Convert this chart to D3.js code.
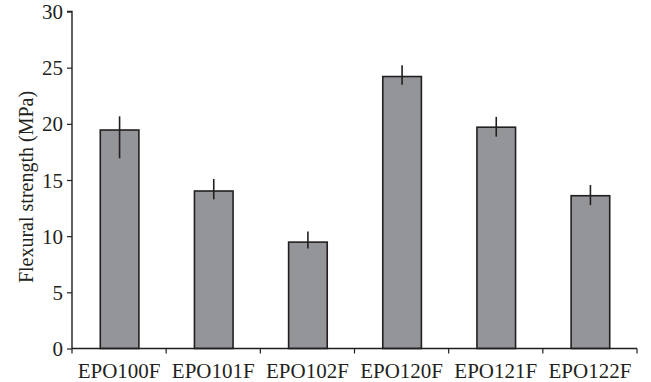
<!DOCTYPE html>
<html>
<head>
<meta charset="utf-8">
<script src="https://cdn.jsdelivr.net/npm/d3@7"></script>
<style>
  html, body { margin: 0; padding: 0; background: #fff; }
  svg { display: block; }
  text { font-family: "Liberation Serif", "Times New Roman", serif; fill: #231f20; }
</style>
</head>
<body>
<svg id="chart" width="651" height="382"></svg>
<script>
// Flexural strength of each formulation, with error bar extents (MPa)
const categories = ["EPO100F", "EPO101F", "EPO102F", "EPO120F", "EPO121F", "EPO122F"];
const strength   = [19.45, 14.02, 9.47, 24.21, 19.70, 13.60];
const errHigh    = [20.67, 15.09, 10.42, 25.22, 20.62, 14.55];
const errLow     = [16.93, 13.28, 8.91, 23.47, 18.86, 12.77];
const yTicks     = [0, 5, 10, 15, 20, 25, 30];
const yLabel     = "Flexural strength (MPa)";

const svg = d3.select("#chart");
const plotLeft = 72, plotRight = 637, plotTop = 11.5, plotBottom = 348.5;

const x = d3.scaleBand().domain(categories).range([plotLeft, plotRight]).padding(0);
const y = d3.scaleLinear().domain([0, 30]).range([plotBottom, plotTop]);

const ink = "#231f20";
const barW = x.bandwidth() * 0.41;

// Bars
svg.append("g").selectAll("rect")
  .data(categories)
  .join("rect")
  .attr("x", (d) => x(d) + x.bandwidth() / 2 - barW / 2 + 0.5)
  .attr("y", (d, i) => y(strength[i]))
  .attr("width", barW)
  .attr("height", (d, i) => y(0) - y(strength[i]))
  .attr("fill", "#939598")
  .attr("stroke", ink)
  .attr("stroke-width", 1.6);

// Error bars
svg.append("g").selectAll("line")
  .data(categories)
  .join("line")
  .attr("x1", (d) => x(d) + x.bandwidth() / 2 + 0.5)
  .attr("x2", (d) => x(d) + x.bandwidth() / 2 + 0.5)
  .attr("y1", (d, i) => y(errHigh[i]))
  .attr("y2", (d, i) => y(errLow[i]))
  .attr("stroke", ink)
  .attr("stroke-width", 1.6);

// Y axis
const yAxis = svg.append("g")
  .attr("transform", `translate(${plotLeft},0)`)
  .call(d3.axisLeft(y).tickValues(yTicks).tickSize(5).tickPadding(4).tickFormat(d3.format("d")));
yAxis.select(".domain").attr("stroke", ink).attr("stroke-width", 1.4).attr("d", `M-5,${plotTop}H0V${plotBottom}`);
yAxis.selectAll(".tick line").attr("stroke", ink).attr("stroke-width", 1.2);
yAxis.selectAll(".tick text")
  .attr("font-size", 21).attr("font-family", "Liberation Serif, serif").attr("fill", ink)
  .attr("dy", "0.34em");

// X axis with ticks at category boundaries
const xAxis = svg.append("g").attr("transform", `translate(0,${plotBottom})`);
xAxis.append("line")
  .attr("x1", plotLeft).attr("x2", plotRight)
  .attr("stroke", ink).attr("stroke-width", 1.4);
const boundaries = categories.map((d) => x(d)).concat([plotRight]);
xAxis.selectAll("line.tick")
  .data(boundaries)
  .join("line")
  .attr("class", "tick")
  .attr("x1", (d) => d).attr("x2", (d) => d)
  .attr("y1", 0).attr("y2", 5)
  .attr("stroke", ink).attr("stroke-width", 1.2);
xAxis.selectAll("text")
  .data(categories)
  .join("text")
  .attr("x", (d) => x(d) + x.bandwidth() / 2)
  .attr("y", 29)
  .attr("text-anchor", "middle")
  .attr("font-size", 21)
  .text((d) => d);

// Y axis title
svg.append("text")
  .attr("transform", `translate(33,${(plotTop + plotBottom) / 2 + 7}) rotate(-90)`)
  .attr("text-anchor", "middle")
  .attr("font-size", 20)
  .text(yLabel);
</script>
</body>
</html>
